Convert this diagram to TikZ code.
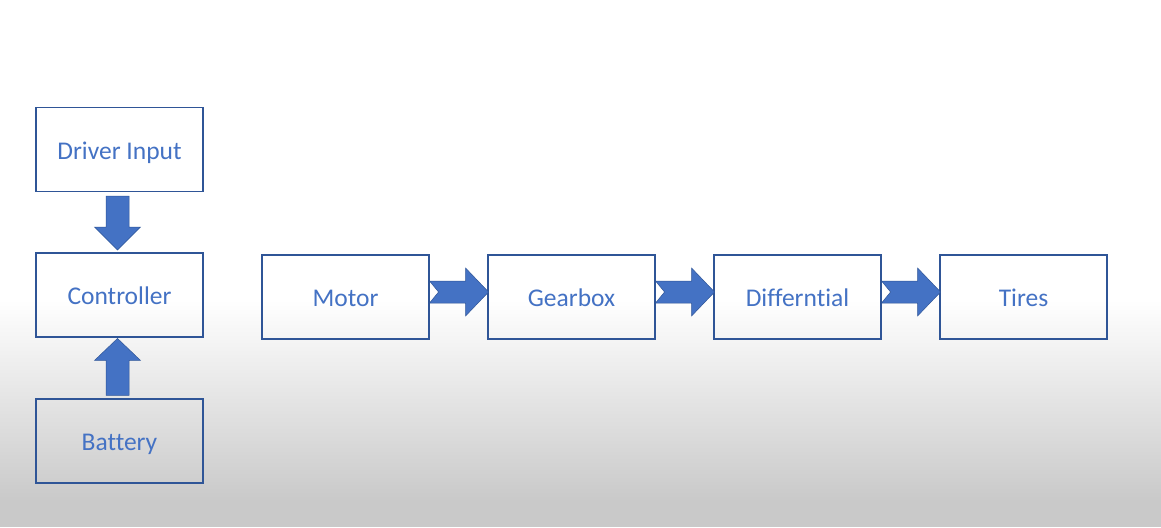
\documentclass[tikz,border=0pt]{standalone}
\usepackage{fontspec}
\setmainfont{Carlito}[Ligatures=NoCommon]
\usepackage{xcolor}
\usepackage{tikz}
\usetikzlibrary{positioning}

\definecolor{boxline}{HTML}{2F5597}
\definecolor{boxtext}{HTML}{4472C4}
\definecolor{arrowfill}{HTML}{4472C4}

\begin{document}
\begin{tikzpicture}[x=1pt,y=-1pt,
  block/.style={draw=boxline,line width=1.1pt,minimum width=167pt,minimum height=84pt,
    text=boxtext,font=\fontsize{25.5}{28}\selectfont,inner sep=0pt,
    text height=19pt,text depth=0pt},
  fatarrow/.style={fill=arrowfill,draw=boxline,line width=0.5pt}]
\def\sidearrow#1{(#1.east) ++(0,-16) -- ++(36,0) -- ++(0,-13) -- ++(23,24) -- ++(-23,24)
  -- ++(0,-13) -- ++(-36,0) -- ++(9,-11) -- cycle}
  % background
  \useasboundingbox (0,0) rectangle (1161,527);
  \fill[white] (0,0) rectangle (1161,300);
  \shade[top color=white,bottom color=black!21] (0,300) rectangle (1161,500);
  \fill[black!21] (0,500) rectangle (1161,527);
  % left column
  \node[block] (driver) at (119.5,149.5) {Driver Input};
  \node[block] (controller) at (119.5,295) {Controller};
  \node[block] (battery) at (119.5,441) {Battery};
  % drive line
  \node[block] (motor) at (345.5,297) {Motor};
  \node[block,right=57.9pt of motor] (gearbox) {Gearbox};
  \node[block,right=57.9pt of gearbox] (diff) {Differntial};
  \node[block,right=57.9pt of diff] (tires) {Tires};
  % arrows
  \draw[fatarrow] (driver.south) ++(-13.5,4) -- ++(23,0) -- ++(0,31) -- ++(11.5,0) -- ++(-23,23)
    -- ++(-23,-23) -- ++(11.5,0) -- cycle;
  \draw[fatarrow] (battery.north) ++(-13.5,-3) -- ++(23,0) -- ++(0,-35) -- ++(11.5,0) -- ++(-23,-22)
    -- ++(-23,22) -- ++(11.5,0) -- cycle;
  \draw[fatarrow] \sidearrow{motor};
  \draw[fatarrow] \sidearrow{gearbox};
  \draw[fatarrow] \sidearrow{diff};
\end{tikzpicture}
\end{document}
